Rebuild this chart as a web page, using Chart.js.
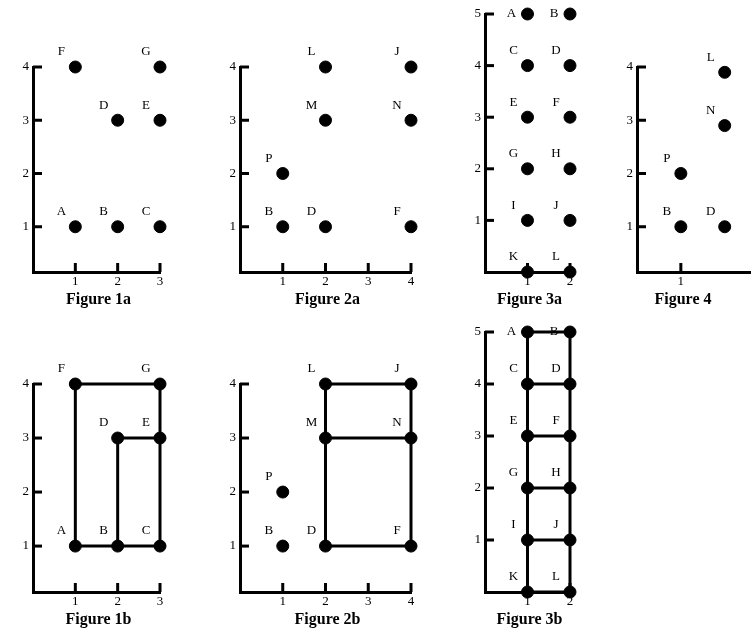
<!DOCTYPE html>
<html>
<head>
<meta charset="utf-8">
<script src="https://cdn.jsdelivr.net/npm/chart.js@4.4.0/dist/chart.umd.min.js"></script>
<style>
  body { margin: 0; background: #fff; width: 751px; height: 632px; position: relative; overflow: hidden; }
  canvas { position: absolute; }
  .cap { position: absolute; font: bold 16px "Liberation Serif", serif; transform: translateX(-50%); white-space: nowrap; }
</style>
</head>
<body>
<script>
// point names and coordinates for every figure
const names1 = ["A", "B", "C", "D", "E", "F", "G"];
const xs1 = [1, 2, 3, 2, 3, 1, 3];
const ys1 = [1, 1, 1, 3, 3, 4, 4];

const names2 = ["B", "D", "F", "P", "M", "N", "L", "J"];
const xs2 = [1, 2, 4, 1, 2, 4, 2, 4];
const ys2 = [1, 1, 1, 2, 3, 3, 4, 4];

const names3 = ["K", "L", "I", "J", "G", "H", "E", "F", "C", "D", "A", "B"];
const xs3 = [1, 2, 1, 2, 1, 2, 1, 2, 1, 2, 1, 2];
const ys3 = [0, 0, 1, 1, 2, 2, 3, 3, 4, 4, 5, 5];

const names4 = ["B", "D", "P", "N", "L"];
const xs4 = [1, 2, 1, 2, 2];
const ys4 = [1, 1, 2, 2.9, 3.9];

// segments [x1, y1, x2, y2]
const seg1b = [[1, 1, 1, 4], [1, 4, 3, 4], [3, 4, 3, 1], [1, 1, 3, 1], [2, 1, 2, 3], [2, 3, 3, 3]];
const seg2b = [[2, 4, 4, 4], [2, 4, 2, 1], [4, 4, 4, 1], [2, 3, 4, 3], [2, 1, 4, 1]];
const seg3b = [[1, 0, 1, 5], [2, 0, 2, 5], [1, 0, 2, 0], [1, 1, 2, 1], [1, 2, 2, 2], [1, 3, 2, 3], [1, 4, 2, 4], [1, 5, 2, 5]];

// panel placement: axis x, pixel of x max, axis bottom, pixel of y max
const panels = [
  { cap: "Figure 1a", names: names1, xs: xs1, ys: ys1, segs: [], ax: 33, xr: 160, xmax: 3, by: 272, ty: 67, ymin: 0.15, ymax: 4 },
  { cap: "Figure 2a", names: names2, xs: xs2, ys: ys2, segs: [], ax: 240, xr: 411, xmax: 4, by: 272, ty: 67, ymin: 0.15, ymax: 4 },
  { cap: "Figure 3a", names: names3, xs: xs3, ys: ys3, segs: [], ax: 485, xr: 570, xmax: 2, by: 272, ty: 14, ymin: 0, ymax: 5 },
  { cap: "Figure 4", names: names4, xs: xs4, ys: ys4, segs: [], ax: 637, xr: 725, xmax: 2, by: 272, ty: 67, ymin: 0.15, ymax: 4, ext: 2.6 },
  { cap: "Figure 1b", names: names1, xs: xs1, ys: ys1, segs: seg1b, ax: 33, xr: 160, xmax: 3, by: 592, ty: 384, ymin: 0.15, ymax: 4 },
  { cap: "Figure 2b", names: names2, xs: xs2, ys: ys2, segs: seg2b, ax: 240, xr: 411, xmax: 4, by: 592, ty: 384, ymin: 0.15, ymax: 4 },
  { cap: "Figure 3b", names: names3, xs: xs3, ys: ys3, segs: seg3b, ax: 485, xr: 570, xmax: 2, by: 592, ty: 332, ymin: 0, ymax: 5 }
];

const font = { family: "Liberation Serif", size: 13 };

const inwardTicks = {
  id: "inwardTicks",
  afterDraw(chart) {
    const c = chart.ctx, a = chart.chartArea;
    c.save();
    c.strokeStyle = "#000";
    c.lineWidth = 3;
    chart.scales.x.ticks.forEach(t => {
      const px = chart.scales.x.getPixelForValue(t.value);
      c.beginPath(); c.moveTo(px, a.bottom); c.lineTo(px, a.bottom - 9); c.stroke();
    });
    chart.scales.y.ticks.forEach(t => {
      const py = chart.scales.y.getPixelForValue(t.value);
      c.beginPath(); c.moveTo(a.left, py); c.lineTo(a.left + 9, py); c.stroke();
    });
    c.restore();
  }
};

const pointNames = {
  id: "pointNames",
  afterDatasetsDraw(chart) {
    const c = chart.ctx;
    const names = chart.config.options.plugins.pointNames.names;
    const top = chart.config.options.plugins.pointNames.top;
    const meta = chart.getDatasetMeta(chart.data.datasets.length - 1);
    c.save();
    c.font = "13px 'Liberation Serif'";
    c.fillStyle = "#000";
    c.textAlign = "center";
    c.textBaseline = "middle";
    meta.data.forEach((p, i) => {
      const v = chart.data.datasets[chart.data.datasets.length - 1].data[i];
      if (v.y === top) c.fillText(names[i], p.x - 16, p.y);
      else c.fillText(names[i], p.x - 14, p.y - 15);
    });
    c.restore();
  }
};

panels.forEach(p => {
  const xmaxAxis = p.ext || p.xmax;
  const unit = (p.xr - p.ax) / p.xmax;
  const right = p.ax + unit * xmaxAxis;
  const cv = document.createElement("canvas");
  const w = right - p.ax + 30 + 15, h = p.by - p.ty + 25 + 22;
  cv.width = w; cv.height = h;
  cv.style.left = (p.ax - 30) + "px";
  cv.style.top = (p.ty - 25) + "px";
  cv.style.width = w + "px"; cv.style.height = h + "px";
  document.body.appendChild(cv);

  const cap = document.createElement("div");
  cap.className = "cap";
  cap.textContent = p.cap;
  cap.style.left = (p.ax + (p.xr - p.ax) / 2 + 2) + "px";
  cap.style.top = (p.by + 18) + "px";
  document.body.appendChild(cap);

  const datasets = p.segs.map(s => ({
    data: [{ x: s[0], y: s[1] }, { x: s[2], y: s[3] }],
    showLine: true, borderColor: "#000", borderWidth: 3, pointRadius: 0
  }));
  datasets.push({
    data: p.xs.map((x, i) => ({ x: x, y: p.ys[i] })),
    backgroundColor: "#000", borderColor: "#000", pointRadius: 6, pointHoverRadius: 6
  });

  const intTicks = s => { s.ticks = s.ticks.filter(t => Number.isInteger(t.value) && t.value >= 1); };

  new Chart(cv, {
    type: "scatter",
    data: { datasets: datasets },
    options: {
      responsive: false, animation: false, devicePixelRatio: 1,
      clip: false,
      layout: { padding: { top: 25, right: 15, left: 0, bottom: 0 } },
      plugins: { legend: { display: false }, tooltip: { enabled: false }, pointNames: { names: p.names, top: 5 } },
      scales: {
        x: {
          type: "linear", min: 0, max: xmaxAxis,
          ticks: { stepSize: 1, color: "#000", font: font, padding: 2, maxRotation: 0 },
          grid: { display: false, drawTicks: false },
          border: { color: "#000", width: 3 },
          afterBuildTicks: intTicks,
          afterFit: s => { s.height = 22; }
        },
        y: {
          type: "linear", min: p.ymin, max: p.ymax,
          ticks: { stepSize: 1, color: "#000", font: font, padding: 4 },
          grid: { display: false, drawTicks: false },
          border: { color: "#000", width: 3 },
          afterBuildTicks: intTicks,
          afterFit: s => { s.width = 30; }
        }
      }
    },
    plugins: [inwardTicks, pointNames]
  });
});
</script>
</body>
</html>
